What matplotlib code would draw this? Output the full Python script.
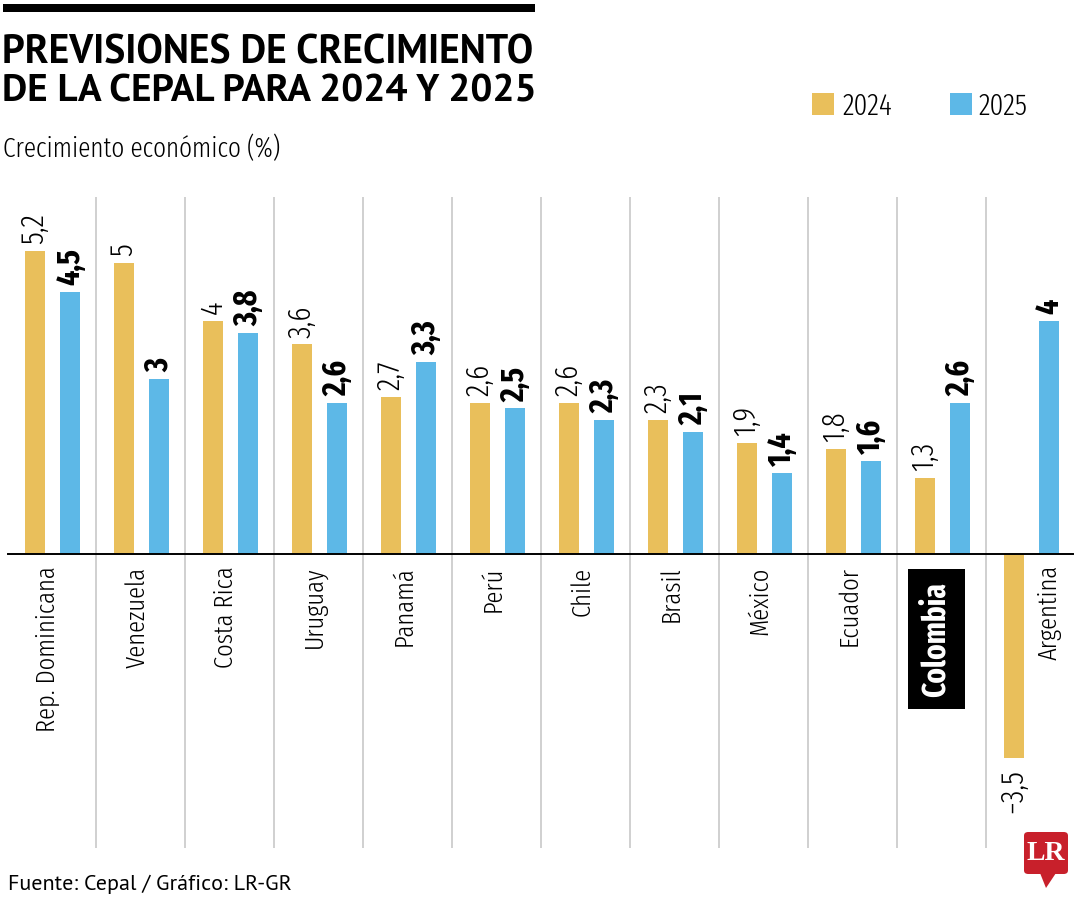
import numpy as np
import matplotlib
matplotlib.use("Agg")
import matplotlib.pyplot as plt
from matplotlib.patches import Rectangle, FancyBboxPatch, Polygon

countries = ["Rep. Dominicana", "Venezuela", "Costa Rica", "Uruguay", "Panamá",
             "Perú", "Chile", "Brasil", "México", "Ecuador", "Colombia", "Argentina"]
vals_2024 = [5.2, 5, 4, 3.6, 2.7, 2.6, 2.6, 2.3, 1.9, 1.8, 1.3, -3.5]
vals_2025 = [4.5, 3, 3.8, 2.6, 3.3, 2.5, 2.3, 2.1, 1.4, 1.6, 2.6, 4]
labels_2024 = ["5,2", "5", "4", "3,6", "2,7", "2,6", "2,6", "2,3", "1,9", "1,8", "1,3", "−3,5"]
labels_2025 = ["4,5", "3", "3,8", "2,6", "3,3", "2,5", "2,3", "2,1", "1,4", "1,6", "2,6", "4"]

YELLOW = "#E9BF5B"
BLUE = "#5DB8E7"
GRID = "#C4C4C4"
COND = ["Fira Sans Extra Condensed", "DejaVu Sans"]
HEAD = ["PT Sans", "DejaVu Sans"]

W, H = 1080, 900
fig = plt.figure(figsize=(W / 100, H / 100), dpi=100)
renderer = fig.canvas.get_renderer()


def fx(x):
    return x / W


def fy(y):
    return 1 - y / H


def fit_size(s, target_px, **kw):
    # font size giving the wanted text length in pixels
    t = fig.text(0, 0, s, fontsize=20, **kw)
    w = t.get_window_extent(renderer).width
    t.remove()
    return 20 * target_px / w


# axes placed so that zero sits at y=554 px and 1 unit = 58.2 px
top_px, bot_px = 197, 848
ppu = 58.2
ax = fig.add_axes([fx(7), fy(bot_px), (1075 - 7) / W, (bot_px - top_px) / H])
ax.set_xlim(-0.5, len(countries) - 0.5)
ax.set_ylim(-(bot_px - 554) / ppu, (554 - top_px) / ppu)
ax.axis("off")

x = np.arange(len(countries))
bw = 0.225
off1, off2 = -0.19, 0.21

for sep in x[:-1] + 0.5:
    ax.axvline(sep, color=GRID, lw=1.1, zorder=0)

ax.bar(x + off1, vals_2024, width=bw, color=YELLOW, zorder=2)
ax.bar(x + off2, vals_2025, width=bw, color=BLUE, zorder=2)
ax.axhline(0, color="black", lw=1.4, xmin=0.001, xmax=0.998, zorder=3)

fs_v1 = fit_size("5,2", 31, family=COND, fontweight=300)
fs_v2 = fit_size("4,5", 37, family=COND, fontweight="bold")
fs_cat = fit_size("Rep. Dominicana", 166, family=COND, fontweight=300)
fs_col = fit_size("Colombia", 115, family=COND, fontweight="bold")

for i in range(len(countries)):
    v = vals_2024[i]
    if v >= 0:
        ax.annotate(labels_2024[i], (x[i] + off1, v), xytext=(0, 5), textcoords="offset points",
                    rotation=90, ha="center", va="bottom", fontsize=fs_v1, family=COND,
                    fontweight=300)
    else:
        ax.annotate(labels_2024[i], (x[i] + off1, v), xytext=(0, -8), textcoords="offset points",
                    rotation=90, ha="center", va="top", fontsize=fs_v1, family=COND,
                    fontweight=300)
    ax.annotate(labels_2025[i], (x[i] + off2, vals_2025[i]), xytext=(0, 5), textcoords="offset points",
                rotation=90, ha="center", va="bottom", fontsize=fs_v2, family=COND,
                fontweight="bold")

# category labels
for i, name in enumerate(countries):
    if name == "Colombia":
        ax.annotate(name, (x[i] - 0.06, 0), xytext=(0, -20), textcoords="offset points",
                    rotation=90, ha="center", va="top", fontsize=fs_col, family=COND,
                    fontweight="bold", color="white",
                    bbox=dict(boxstyle="square,pad=0.4", fc="black", ec="none"))
    elif name == "Argentina":
        ax.annotate(name, (x[i] + off2, 0), xytext=(0, -8), textcoords="offset points",
                    rotation=90, ha="center", va="top", fontsize=fs_cat, family=COND,
                    fontweight=300)
    else:
        ax.annotate(name, (x[i] - 0.04, 0), xytext=(0, -9), textcoords="offset points",
                    rotation=90, ha="center", va="top", fontsize=fs_cat, family=COND,
                    fontweight=300)

# header
fig.add_artist(Rectangle((fx(3), fy(12)), (535 - 3) / W, 8 / H, transform=fig.transFigure,
                         color="black", lw=0))
t1 = "PREVISIONES DE CRECIMIENTO"
t2 = "DE LA CEPAL PARA 2024 Y 2025"
fig.text(fx(2), fy(63), t1, fontsize=fit_size(t1, 530, family=HEAD, fontweight="bold"),
         fontweight="bold", family=HEAD, va="baseline", ha="left")
fig.text(fx(2), fy(102), t2, fontsize=fit_size(t2, 533, family=HEAD, fontweight="bold"),
         fontweight="bold", family=HEAD, va="baseline", ha="left")
sub = "Crecimiento económico (%)"
fig.text(fx(3), fy(157), sub, fontsize=fit_size(sub, 277, family=COND, fontweight=300),
         family=COND, fontweight=300, va="baseline", ha="left")

# legend
fs_leg = fit_size("2024", 50, family=COND, fontweight=300)
fig.add_artist(Rectangle((fx(812), fy(115)), 22 / W, 22 / H, transform=fig.transFigure,
                         color=YELLOW, lw=0))
fig.text(fx(843), fy(115), "2024", fontsize=fs_leg, family=COND, fontweight=300,
         va="baseline", ha="left")
fig.add_artist(Rectangle((fx(950), fy(115)), 22 / W, 22 / H, transform=fig.transFigure,
                         color=BLUE, lw=0))
fig.text(fx(979), fy(115), "2025", fontsize=fs_leg, family=COND, fontweight=300,
         va="baseline", ha="left")

# source
src = "Fuente: Cepal / Gráfico: LR-GR"
fig.text(fx(8), fy(890), src, fontsize=fit_size(src, 282, family=HEAD), family=HEAD,
         va="baseline", ha="left")

# LR logo
RED = "#C8202B"
fig.add_artist(FancyBboxPatch((fx(1024), fy(874)), 44 / W, 42 / H, transform=fig.transFigure,
                              boxstyle="round,pad=0,rounding_size=0.004", fc=RED, ec="none"))
fig.add_artist(Polygon([(fx(1040), fy(873)), (fx(1056), fy(873)), (fx(1046), fy(888))],
                       closed=True, transform=fig.transFigure, fc=RED, ec="none"))
fig.text(fx(1046), fy(854), "LR", fontsize=20, fontweight="bold", color="white",
         family=["Liberation Serif", "DejaVu Serif"], ha="center", va="center")

fig.savefig("out.png", dpi=100)
